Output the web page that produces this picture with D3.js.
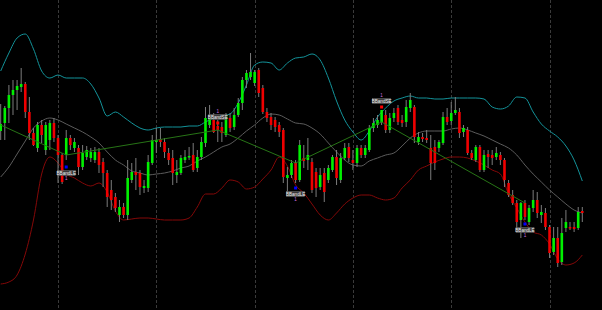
<!DOCTYPE html>
<html>
<head>
<meta charset="utf-8">
<script src="https://cdn.jsdelivr.net/npm/d3@7"></script>
<style>
  html, body { margin: 0; padding: 0; background: #000; }
  svg { display: block; }
  .wick { stroke: #7c7c7c; stroke-width: 1; }
  .band { fill: none; stroke-width: 1; }
  .sig text { font-family: "Liberation Sans", Arial, sans-serif; }
</style>
</head>
<body>
<script>
// ohlc, one entry per bar (price units)
var open = [179,187,202,215,220,223,226,198,177,162,
  185,160,170,187,172,155,155,172,162,162,
  143,153,152,150,158,148,137,120,113,95,
  103,95,130,138,137,122,122,147,168,171,
  168,157,152,135,137,150,153,155,142,153,
  167,185,190,184,183,175,192,183,195,207,
  230,233,227,240,222,198,193,190,185,180,
  132,135,147,130,152,150,148,138,123,137,
  130,140,153,130,152,163,150,147,162,155,
  160,182,185,188,195,180,192,202,190,188,
  202,203,168,173,172,162,163,162,167,193,
  189,197,198,178,180,157,150,163,140,156,
  155,153,155,150,127,115,107,90,107,88,
  102,110,95,97,83,58,72,48,82,83,
  83,82,99];
var high = [206,204,225,230,230,242,228,213,182,188,
  190,188,190,192,175,157,180,175,172,165,
  165,164,162,163,162,152,140,130,117,110,
  107,150,147,152,140,130,155,175,182,182,
  172,162,160,150,155,160,163,167,160,173,
  203,205,197,190,188,197,197,202,212,233,
  240,257,240,242,225,202,197,193,188,182,
  143,150,150,170,165,172,152,142,142,142,
  145,155,160,157,167,167,160,165,165,165,
  185,192,195,200,200,197,202,205,195,210,
  217,205,178,177,180,175,170,170,198,202,
  208,213,202,185,183,160,165,165,160,160,
  160,163,158,152,130,120,110,108,110,105,
  120,118,105,102,85,83,83,92,100,88,
  88,103,103];
var low = [170,170,187,195,200,218,192,170,164,158,
  167,155,160,168,127,126,150,160,158,135,
  140,150,148,147,137,123,103,100,98,88,
  92,90,127,120,115,117,118,145,157,163,
  152,145,125,127,135,147,150,138,138,150,
  163,182,177,168,168,173,178,180,193,200,
  222,230,224,213,196,188,180,178,173,127,
  118,132,127,128,142,140,117,113,120,108,
  127,138,125,127,150,148,140,143,152,152,
  158,178,182,185,177,177,188,185,183,183,
  198,167,165,168,167,130,140,158,165,185,
  185,195,172,173,155,150,148,138,138,142,
  145,150,145,123,113,105,82,72,90,85,
  98,92,87,80,52,55,43,45,78,80,
  78,80,88];
var close = [186,202,215,220,224,226,198,177,165,185,
  175,185,187,172,155,128,172,165,168,143,
  157,160,158,158,145,137,113,110,102,103,
  95,132,138,135,123,124,148,170,170,168,
  158,150,137,138,152,153,154,140,153,168,
  192,192,178,180,177,195,182,195,207,230,
  237,238,238,217,198,192,185,183,178,133,
  135,147,130,165,149,155,120,122,135,118,
  142,153,132,152,162,152,147,162,155,162,
  182,187,190,200,180,192,197,188,187,203,
  210,173,173,171,170,147,147,168,193,188,
  197,200,177,182,157,152,163,140,155,153,
  152,157,150,130,115,107,88,107,93,102,
  110,97,98,83,57,72,47,77,88,82,
  81,98,97];

// bollinger bands, read every 2nd bar
var bandStep = 2;
var upperBand = [239,257,272,276,261,239,232,235,232,232,232,226,212,194,198,193,187,182,180,182,
  183,183,183,184,184,188,192,194,196,207,225,245,248,247,240,247,252,253,256,250,
  232,209,190,178,170,179,193,202,209,212,214,212,212,211,211,212,212,212,212,211,
  203,201,204,213,212,198,186,179,173,164,150,129];
var midBand = [133,143,156,169,182,189,192,190,186,182,178,173,167,158,150,145,139,137,135,136,
  137,139,142,144,149,153,158,163,166,172,179,185,192,196,195,191,187,186,182,176,
  167,158,150,145,144,149,152,155,157,164,172,177,179,179,179,181,182,180,177,174,
  170,166,162,155,145,136,128,120,113,106,100,97];
var lowerBand = [26,28,35,56,90,136,153,147,136,132,127,124,127,118,99,90,91,92,92,91,
  90,90,90,92,103,116,116,122,130,128,121,123,131,140,153,144,125,117,106,95,
  90,97,106,112,115,115,112,110,112,122,130,140,144,148,151,153,153,152,149,145,
  140,136,116,102,88,78,75,66,51,45,47,55];

// trade line and signals
var tradeBars = [0, 16, 53, 72, 93, 128];
var tradePrices = [185, 155, 180, 147, 188, 107];
var signalBars = [16, 53, 72, 93, 128];
var signalNames = ['BBandLE', 'BBandSE', 'BBandLE', 'BBandSE', 'BBandLE'];
var signalPrices = [143, 187, 122, 203, 86];

var gridBars = [14, 38, 62, 86, 110, 134];

var w = 602,
    h = 310;
var bodyW = 2.6;

var svg = d3.select('body')
    .append('svg')
    .attr('width', w)
    .attr('height', h)
    .style('background', '#000');

var x = d3.scaleLinear()
    .domain([0, open.length - 1])
    .range([0.7, 582.3]);
var y = d3.scaleLinear()
    .domain([0, 310])
    .range([h, 0]);

// grid
svg.append('g')
    .selectAll('line')
    .data(gridBars)
    .join('line')
    .attr('x1', function(d) { return Math.round(x(d)) + 0.5; })
    .attr('x2', function(d) { return Math.round(x(d)) + 0.5; })
    .attr('y1', 0)
    .attr('y2', h)
    .attr('stroke', '#3a3a3a')
    .attr('stroke-dasharray', '3,2');

// bands
var bandLine = d3.line()
    .x(function(d, i) { return x(i * bandStep); })
    .y(function(d) { return y(d); })
    .curve(d3.curveMonotoneX);

svg.append('path').datum(upperBand).attr('class', 'band').attr('stroke', '#13939a').attr('d', bandLine);
svg.append('path').datum(midBand).attr('class', 'band').attr('stroke', '#5c5c5c').attr('d', bandLine);
svg.append('path').datum(lowerBand).attr('class', 'band').attr('stroke', '#850808').attr('d', bandLine);

// candles
var bars = d3.range(open.length);
var candles = svg.append('g');
candles.selectAll('line')
    .data(bars)
    .join('line')
    .attr('class', 'wick')
    .attr('x1', function(i) { return x(i); })
    .attr('x2', function(i) { return x(i); })
    .attr('y1', function(i) { return y(high[i]); })
    .attr('y2', function(i) { return y(low[i]); });
candles.selectAll('rect')
    .data(bars)
    .join('rect')
    .attr('x', function(i) { return x(i) - bodyW / 2; })
    .attr('width', bodyW)
    .attr('y', function(i) { return y(Math.max(open[i], close[i])); })
    .attr('height', function(i) { return Math.max(1.5, Math.abs(y(open[i]) - y(close[i]))); })
    .attr('fill', function(i) { return close[i] >= open[i] ? '#00f000' : '#f00000'; });

// trade line
svg.append('path')
    .datum(tradeBars)
    .attr('fill', 'none')
    .attr('stroke', '#277416')
    .attr('stroke-width', 1)
    .attr('d', d3.line()
        .x(function(d) { return x(d); })
        .y(function(d, i) { return y(tradePrices[i]); }));

// signals
var sig = svg.append('g')
    .attr('class', 'sig')
    .selectAll('g')
    .data(signalBars)
    .join('g')
    .attr('transform', function(d, i) {
        return 'translate(' + x(d) + ',' + y(signalPrices[i]) + ')';
    });
sig.append('rect')
    .attr('x', -1.5).attr('y', -1.5)
    .attr('width', 3).attr('height', 3)
    .attr('fill', function(d, i) { return signalNames[i] == 'BBandLE' ? '#0000ff' : '#ff0000'; });
sig.append('rect')
    .attr('x', -9)
    .attr('y', function(d, i) { return signalNames[i] == 'BBandLE' ? 3.5 : -8.5; })
    .attr('width', 18)
    .attr('height', 5)
    .attr('fill', '#3a3a3a')
    .attr('stroke', '#777')
    .attr('stroke-width', 0.5);
sig.append('text')
    .attr('y', function(d, i) { return signalNames[i] == 'BBandLE' ? 7.7 : -4.3; })
    .attr('text-anchor', 'middle')
    .attr('font-size', 4.6)
    .attr('fill', '#f2f2f2')
    .text(function(d, i) { return signalNames[i]; });
sig.append('text')
    .attr('y', function(d, i) { return signalNames[i] == 'BBandLE' ? 13 : -10; })
    .attr('text-anchor', 'middle')
    .attr('font-size', 4.5)
    .attr('fill', '#d070e0')
    .text('1');
</script>
</body>
</html>
